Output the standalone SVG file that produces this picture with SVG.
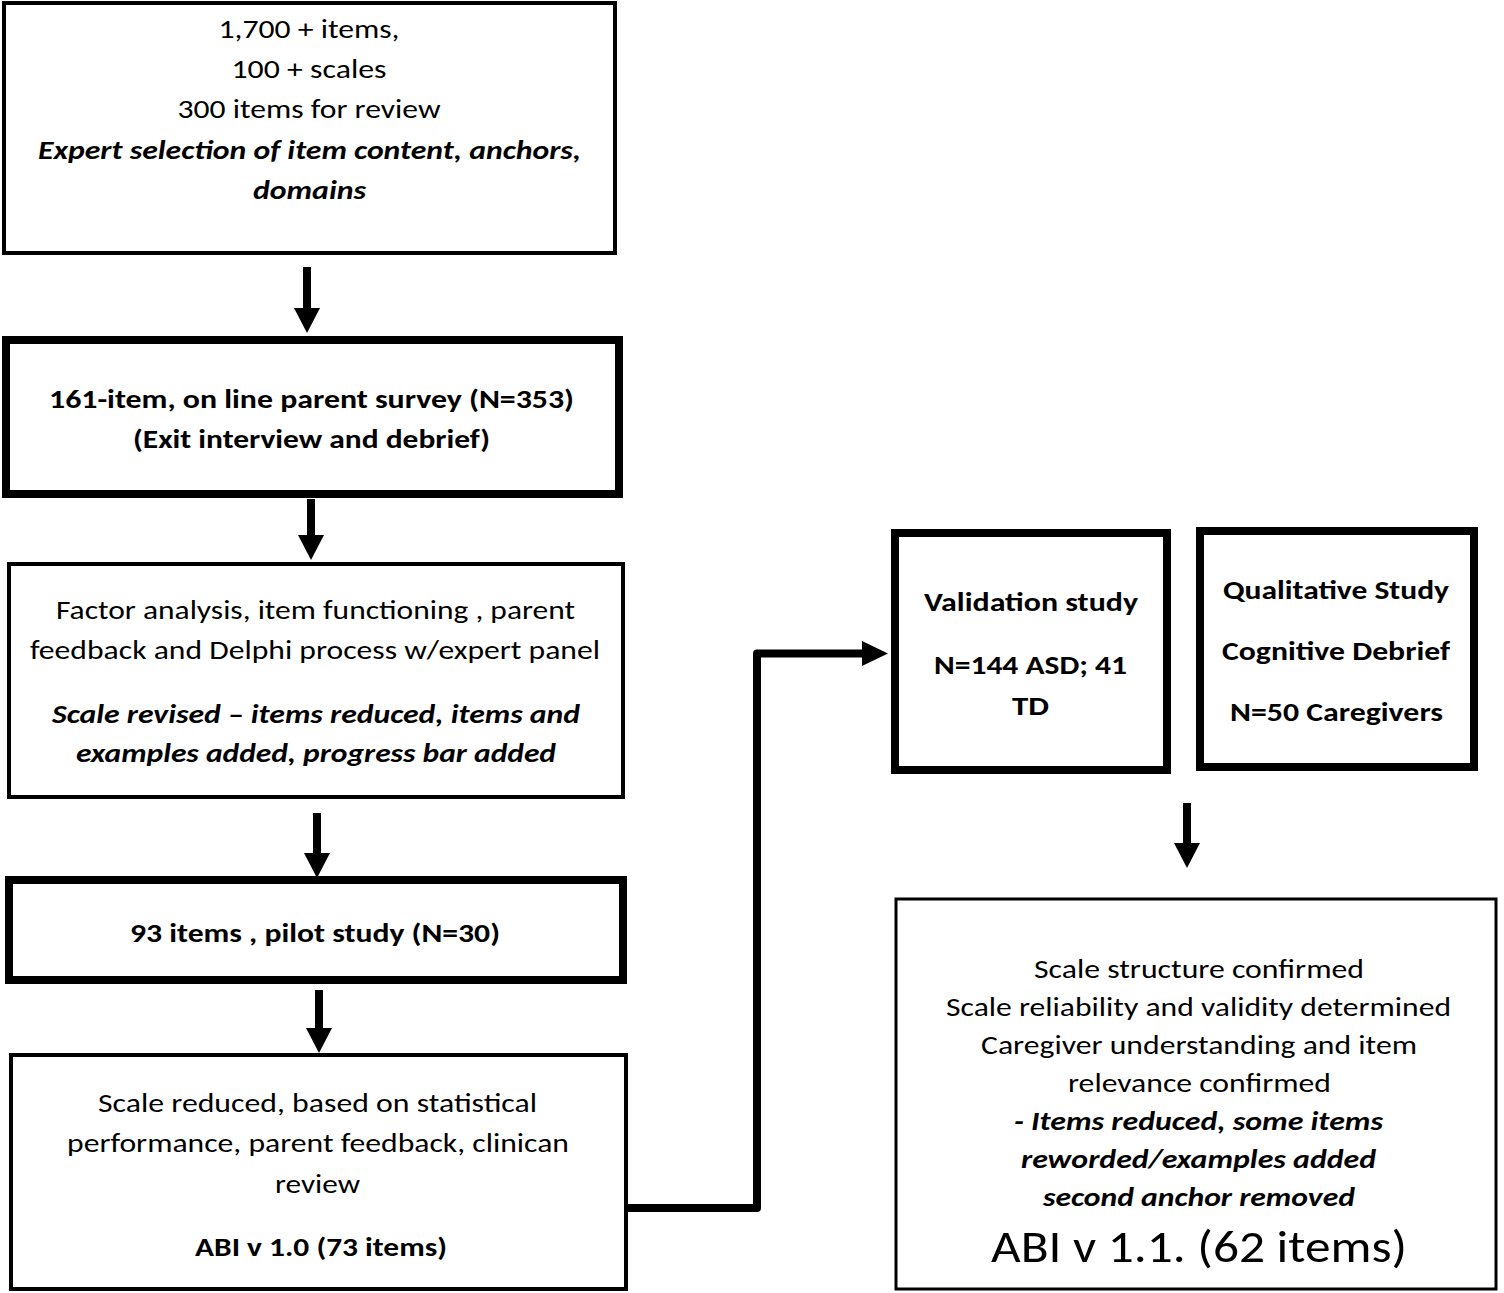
<svg xmlns="http://www.w3.org/2000/svg" width="1504" height="1293" viewBox="0 0 1504 1293">
<style>
.box{fill:#fff;stroke:#000}
.thin{stroke-width:4}
.thick{stroke-width:8}
text{font-family:Carlito,Calibri,Lato,"Open Sans",sans-serif;font-size:27px;fill:#000;text-anchor:middle}
.b{font-weight:bold}
.bi{font-weight:bold;font-style:italic}
.conn{fill:none;stroke:#000;stroke-width:8;stroke-linejoin:round}
.head{fill:#000}
</style>
<rect width="1504" height="1293" fill="#fff"/>
<g id="connectors">
  <line class="conn" x1="307" y1="267" x2="307" y2="310"/>
  <polygon class="head" points="294,308 320,308 307,333"/>
  <line class="conn" x1="311" y1="499" x2="311" y2="537"/>
  <polygon class="head" points="298,535 324,535 311,560"/>
  <line class="conn" x1="317" y1="813" x2="317" y2="855"/>
  <polygon class="head" points="304,853 330,853 317,878"/>
  <line class="conn" x1="319" y1="990" x2="319" y2="1030"/>
  <polygon class="head" points="306,1028 332,1028 319,1053"/>
  <line class="conn" x1="1187" y1="803" x2="1187" y2="845"/>
  <polygon class="head" points="1174,843 1200,843 1187,868"/>
  <path class="conn" d="M627,1208 H757 V653.5 H864"/>
  <polygon class="head" points="862,641 888,653.5 862,666"/>
</g>
<g id="n1">
  <rect class="box thin" x="4" y="3" width="611" height="250"/>
  <text x="309" y="38" textLength="181" lengthAdjust="spacingAndGlyphs">1,700 + items,</text>
  <text x="309" y="78" textLength="155" lengthAdjust="spacingAndGlyphs">100 + scales</text>
  <text x="309" y="118" textLength="263" lengthAdjust="spacingAndGlyphs">300 items for review</text>
  <text class="bi" x="309.5" y="159" textLength="543" lengthAdjust="spacingAndGlyphs">Expert selection of item content, anchors,</text>
  <text class="bi" x="309.5" y="199" textLength="113" lengthAdjust="spacingAndGlyphs">domains</text>
</g>
<g id="n2">
  <rect class="box thick" x="6" y="340" width="613" height="154"/>
  <text class="b" x="311.5" y="408" textLength="525" lengthAdjust="spacingAndGlyphs">161-item, on line parent survey (N=353)</text>
  <text class="b" x="311.5" y="448" textLength="357" lengthAdjust="spacingAndGlyphs">(Exit interview and debrief)</text>
</g>
<g id="n3">
  <rect class="box thin" x="9" y="564" width="614" height="233"/>
  <text x="315.5" y="619" textLength="519" lengthAdjust="spacingAndGlyphs">Factor analysis, item functioning , parent</text>
  <text x="315" y="659" textLength="570" lengthAdjust="spacingAndGlyphs">feedback and Delphi process w/expert panel</text>
  <text class="bi" x="316" y="723" textLength="528" lengthAdjust="spacingAndGlyphs">Scale revised – items reduced, items and</text>
  <text class="bi" x="316" y="762" textLength="480" lengthAdjust="spacingAndGlyphs">examples added, progress bar added</text>
</g>
<g id="n4">
  <rect class="box thick" x="9" y="880" width="614" height="100"/>
  <text class="b" x="315" y="942" textLength="370" lengthAdjust="spacingAndGlyphs">93 items , pilot study (N=30)</text>
</g>
<g id="n5">
  <rect class="box thin" x="11" y="1055" width="615" height="234"/>
  <text x="317.5" y="1112" textLength="439" lengthAdjust="spacingAndGlyphs">Scale reduced, based on statistical</text>
  <text x="318" y="1152" textLength="502" lengthAdjust="spacingAndGlyphs">performance, parent feedback, clinican</text>
  <text x="317.5" y="1193" textLength="85" lengthAdjust="spacingAndGlyphs">review</text>
  <text class="b" x="321" y="1256" textLength="252" lengthAdjust="spacingAndGlyphs">ABI v 1.0 (73 items)</text>
</g>
<g id="n6">
  <rect class="box thick" x="895" y="533" width="272" height="237"/>
  <text class="b" x="1031" y="611" textLength="214" lengthAdjust="spacingAndGlyphs">Validation study</text>
  <text class="b" x="1030.5" y="674" textLength="193" lengthAdjust="spacingAndGlyphs">N=144 ASD; 41</text>
  <text class="b" x="1030.5" y="715" textLength="37" lengthAdjust="spacingAndGlyphs">TD</text>
</g>
<g id="n7">
  <rect class="box thick" x="1200" y="531" width="274" height="236"/>
  <text class="b" x="1336" y="599" textLength="226" lengthAdjust="spacingAndGlyphs">Qualitative Study</text>
  <text class="b" x="1336" y="660" textLength="228" lengthAdjust="spacingAndGlyphs">Cognitive Debrief</text>
  <text class="b" x="1336.5" y="721" textLength="213" lengthAdjust="spacingAndGlyphs">N=50 Caregivers</text>
</g>
<g id="n8">
  <rect class="box" stroke-width="3" x="896" y="899" width="600" height="390"/>
  <text x="1199" y="978" textLength="330" lengthAdjust="spacingAndGlyphs">Scale structure confirmed</text>
  <text x="1198.5" y="1016" textLength="505" lengthAdjust="spacingAndGlyphs">Scale reliability and validity determined</text>
  <text x="1199" y="1054" textLength="436" lengthAdjust="spacingAndGlyphs">Caregiver understanding and item</text>
  <text x="1199.5" y="1092" textLength="263" lengthAdjust="spacingAndGlyphs">relevance confirmed</text>
  <text class="bi" x="1198.5" y="1130" textLength="369" lengthAdjust="spacingAndGlyphs">- Items reduced, some items</text>
  <text class="bi" x="1198.5" y="1168" textLength="355" lengthAdjust="spacingAndGlyphs">reworded/examples added</text>
  <text class="bi" x="1199" y="1206" textLength="312" lengthAdjust="spacingAndGlyphs">second anchor removed</text>
  <text x="1199" y="1262" style="font-size:46px" textLength="416" lengthAdjust="spacingAndGlyphs">ABI v 1.1. (62 items)</text>
</g>
</svg>
